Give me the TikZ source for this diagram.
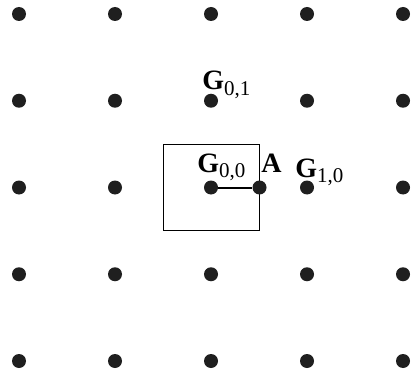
\documentclass[tikz,border=0pt]{standalone}
\usepackage{fontspec}
\setmainfont{Liberation Serif}
\usetikzlibrary{positioning}

\newcommand{\glab}[1]{\textbf{G}\raisebox{-0.45ex}{\fontsize{10.5}{11}\selectfont #1}}

\begin{document}
\begin{tikzpicture}[
    x=0.5pt, y=-0.5pt,
    dot/.style  = {circle, fill=black!88, inner sep=0pt, minimum size=7pt},
    cell/.style = {draw, line width=0.5pt, inner sep=0pt, minimum width=48pt, minimum height=43.4pt},
    lbl/.style  = {anchor=base west, inner sep=0pt, font=\fontsize{14}{16}\selectfont}
]
    \useasboundingbox (0,0) rectangle (412,374);

    % lattice points
    \foreach \i in {0,...,4}
        \foreach \j in {0,...,4}
            \node[dot] (d\i\j) at ({19+96*\i}, {14+86.75*\j}) {};

    % unit cell round G_{0,0}
    \node[cell] (box) at (d22) {};
    \node[dot] (a) at (box.east) {};
    \draw[line width=1pt] (d22) -- (a);

    \node[lbl] (g00) at (197,172) {\glab{0,0}};
    \node[lbl] (alab) at (261,172) {\textbf{A}};
    \node[lbl] (g10) at (295,177) {\glab{1,0}};
    \node[lbl] (g01) at (202,90) {\glab{0,1}};
\end{tikzpicture}
\end{document}
